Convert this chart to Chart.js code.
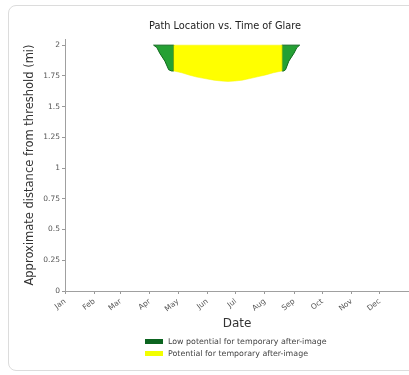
<!DOCTYPE html>
<html>
<head>
<meta charset="utf-8">
<script src="https://cdn.jsdelivr.net/npm/chart.js@4/dist/chart.umd.min.js"></script>
<style>
  html, body { margin:0; padding:0; background:#fff; }
  #wrap { position:relative; width:409px; height:375px; overflow:hidden; font-family:"DejaVu Sans", sans-serif; }
  #card { position:absolute; left:8px; top:5px; width:420px; height:366px; border:1px solid #dcdcdc; border-radius:8px; box-sizing:border-box; }
  #c { position:absolute; left:0; top:0; }
  #title { position:absolute; top:20px; left:100px; width:250px; text-align:center; font-size:9.8px; color:#222; white-space:nowrap; }
  #legend { position:absolute; left:145px; top:335px; font-size:7.9px; color:#444; }
  .row { height:12px; display:flex; align-items:center; white-space:nowrap; }
  .sw { width:18px; height:5px; margin-right:5px; }
</style>
</head>
<body>
<div id="wrap">
  <div id="card"></div>
  <canvas id="c" width="409" height="375"></canvas>
  <div id="title">Path Location vs. Time of Glare</div>
  <div id="legend"></div>
</div>
<script>
// ---- data (day of year, distance in miles) ----
const monthDays = [0, 31, 59, 90, 120, 151, 181, 212, 243, 273, 304, 334];
const monthLabels = ['Jan','Feb','Mar','Apr','May','Jun','Jul','Aug','Sep','Oct','Nov','Dec'];
const yTicks = [0, 0.25, 0.5, 0.75, 1, 1.25, 1.5, 1.75, 2];
const yTickLabels = ['0','0.25','0.5','0.75','1','1.25','1.5','1.75','2'];

// lower boundary of the low-potential (green) region, spring side
const lowSpringDays = [94, 97.5, 100.5, 106, 110, 113, 115.5];
const lowSpringDist = [2.0, 1.98, 1.935, 1.87, 1.80, 1.79, 1.79];
// lower boundary of the low-potential (green) region, summer side
const lowSummerDays = [230, 232, 234, 237.5, 243, 246, 249];
const lowSummerDist = [1.79, 1.79, 1.80, 1.87, 1.935, 1.98, 2.0];
// lower boundary of the potential (yellow) region
const potDays = [115.5, 124, 132.5, 140, 148.5, 158, 166, 173, 180, 188, 196, 204, 213, 221, 230];
const potDist = [1.79, 1.775, 1.755, 1.74, 1.728, 1.715, 1.708, 1.705, 1.708, 1.715, 1.728, 1.742, 1.758, 1.775, 1.79];
const topDist = 2.0;

const legendLabels = ['Low potential for temporary after-image', 'Potential for temporary after-image'];
const legendColors = ['#0c6420', '#f2ff00'];

function band(days, dists) {
  const pts = [];
  pts.push({x: days[0], y: topDist});
  pts.push({x: days[days.length - 1], y: topDist});
  for (let i = days.length - 1; i >= 0; i--) pts.push({x: days[i], y: dists[i]});
  pts.push({x: days[0], y: topDist});
  return pts;
}

const green = '#25a034', greenEdge = '#116b1f';
const ds = [
  { data: band(potDays, potDist), backgroundColor: '#ffff00', borderColor: '#f4f400', borderWidth: 0.5 },
  { data: band(lowSpringDays, lowSpringDist), backgroundColor: green, borderColor: greenEdge, borderWidth: 1 },
  { data: band(lowSummerDays, lowSummerDist), backgroundColor: green, borderColor: greenEdge, borderWidth: 1 }
].map(d => Object.assign(d, { showLine: true, fill: 'shape', pointRadius: 0, tension: 0 }));

new Chart(document.getElementById('c'), {
  type: 'scatter',
  data: { datasets: ds },
  options: {
    responsive: false,
    animation: false,
    events: [],
    layout: { padding: { left: 0, right: 0, top: 39, bottom: 44 } },
    plugins: { legend: { display: false }, tooltip: { enabled: false }, title: { display: false } },
    scales: {
      x: {
        type: 'linear', min: 0, max: 365,
        afterBuildTicks: s => { s.ticks = monthDays.map(v => ({ value: v })); },
        afterFit: s => { s.height = 40; },
        ticks: { autoSkip: false, minRotation: 38, maxRotation: 38, padding: 3, color: '#555',
                 font: { family: 'DejaVu Sans', size: 7.5 },
                 callback: (v, i) => monthLabels[i] },
        grid: { drawOnChartArea: false, drawTicks: true, tickLength: 3, color: '#999' },
        border: { display: true, color: '#a0a0a0', width: 1 },
        title: { display: true, text: 'Date', color: '#333', padding: { top: 0, bottom: 0 },
                 font: { family: 'DejaVu Sans', size: 12 } }
      },
      y: {
        type: 'linear', min: 0, max: 2.05,
        afterBuildTicks: s => { s.ticks = yTicks.map(v => ({ value: v })); },
        afterFit: s => { s.width = 65; },
        ticks: { padding: 2, color: '#555', font: { family: 'DejaVu Sans', size: 7.5 },
                 callback: (v, i) => yTickLabels[i] },
        grid: { drawOnChartArea: false, drawTicks: true, tickLength: 3, color: '#999' },
        border: { display: true, color: '#a0a0a0', width: 1 },
        title: { display: true, text: 'Approximate distance from threshold (mi)', color: '#333',
                 padding: { top: 23, bottom: 0 }, font: { family: 'DejaVu Sans', size: 11.5 } }
      }
    }
  }
});

const lg = document.getElementById('legend');
legendLabels.forEach((t, i) => {
  const r = document.createElement('div'); r.className = 'row';
  const s = document.createElement('div'); s.className = 'sw'; s.style.background = legendColors[i];
  const tx = document.createElement('span'); tx.textContent = t;
  r.appendChild(s); r.appendChild(tx); lg.appendChild(r);
});
</script>
</body>
</html>
